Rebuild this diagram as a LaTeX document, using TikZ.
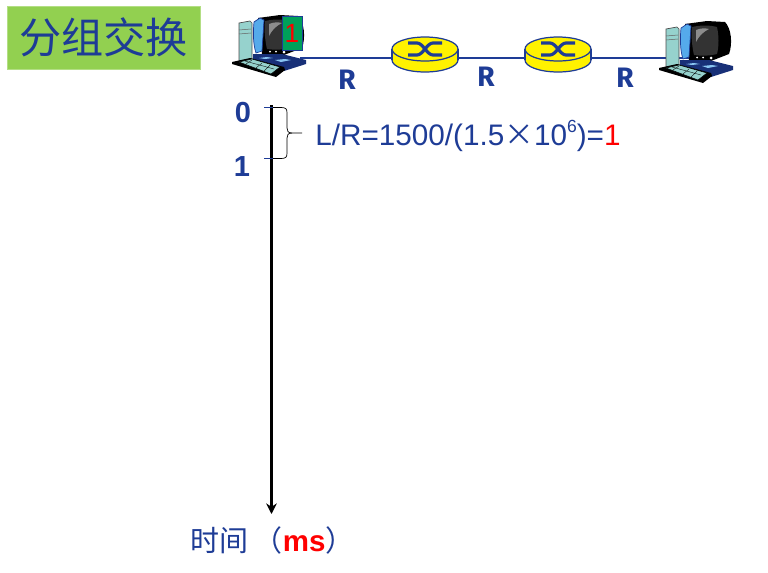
\documentclass[tikz,border=0pt]{standalone}
\usepackage{fontspec}
\setmainfont{Liberation Sans}
\newfontfamily\cjk{Noto Sans CJK SC}
\newfontfamily\rfont{Fira Sans}
\usepackage{tikz}
\usetikzlibrary{calc,arrows.meta,positioning}

\definecolor{netblue}{RGB}{30,60,150}
\definecolor{titlegreen}{RGB}{146,208,80}
\definecolor{tealkey}{RGB}{150,210,205}
\definecolor{slideblue}{RGB}{85,170,235}
\definecolor{pktgreen}{RGB}{0,160,90}

\tikzset{
  link/.style={draw=netblue, line width=1.1pt},
  ratelabel/.style={text=netblue, font=\rfont\fontsize{16}{16}\selectfont\bfseries},
  ticklabel/.style={text=netblue, font=\fontsize{16.5}{17}\selectfont\bfseries},
  tickline/.style={draw=netblue, line width=0.5pt},
  pics/router/.style={code={
    \filldraw[fill=yellow, draw=netblue, line width=0.7pt] (0,11) ellipse[x radius=33, y radius=12];
    \fill[yellow] (-33,0) rectangle (33,11);
    \draw[netblue, line width=0.7pt] (-33,0) -- (-33,11) (33,0) -- (33,11);
    \filldraw[fill=yellow, draw=netblue, line width=0.7pt] (0,0) ellipse[x radius=33, y radius=12];
    \draw[netblue, line width=1.8pt] (-17,-6) -- (-8,-6) .. controls (-2,-6) and (2,6) .. (8,6) -- (17,6);
    \draw[netblue, line width=1.8pt] (-17,6) -- (-8,6) .. controls (-2,6) and (2,-6) .. (8,-6) -- (17,-6);
  }},
  pics/host/.style={code={
    % tower
    \filldraw[fill=tealkey, draw=black!70, line width=0.4pt] (7,-39) -- (18,-41) -- (20,-39) -- (20,-3) -- (7,-1) -- cycle;
    \draw[black!60, line width=0.3pt] (7,-32) -- (19,-33) (7,-28) -- (19,-29);
    % monitor
    \fill[black] (26,-44) -- (48,-47) -- (66,-46) .. controls (72,-40) and (74,-25) .. (70,-14) -- (52,-7) -- (30,-8) -- cycle;
    \filldraw[fill=slideblue, draw=netblue, line width=0.4pt] (22,-40) -- (28,-44) -- (32,-42) -- (30,-11) -- (24,-9) .. controls (21,-18) and (21,-30) .. (22,-40) -- cycle;
    \fill[black!80] (33,-41) .. controls (42,-43) and (50,-43) .. (58,-41) .. controls (60,-32) and (60,-22) .. (58,-14) .. controls (50,-12) and (42,-12) .. (35,-13) .. controls (33,-22) and (32,-32) .. (33,-41) -- cycle;
    \fill[black!45] (37,-38) .. controls (42,-40) and (46,-40) .. (50,-39) .. controls (44,-36) and (40,-32) .. (37,-26) -- cycle;
    % base
    \fill[netblue!80!black] (21,-8) -- (50,-8) -- (74,-2) -- (74,2) -- (52,9) -- (21,3) -- cycle;
    \fill[white] (38,-10.5) circle[radius=1] (44,-10.5) circle[radius=1] (52,-10) circle[radius=1.5];
    \fill[slideblue!70] (27,-4) -- (35,-5) -- (41,-4) -- (33,-3) -- cycle (43,-2) -- (53,-3) -- (59,-2) -- (49,0) -- cycle;
    % keyboard
    \fill[black] (0,0) -- (18,-4) -- (52,5) -- (53,8) -- (44,15) -- (0,2) -- cycle;
    \filldraw[fill=tealkey, draw=black, line width=0.3pt] (7,0) -- (20,-3) -- (48,5) -- (39,12) -- cycle;
    \draw[black, line width=0.2pt] (13,-1) -- (42,7) (20,-2) -- (14,2) (30,1) -- (24,6) (38,3) -- (32,9);
  }}
}

\begin{document}
\begin{tikzpicture}[x=0.02cm, y=-0.02cm]

  \useasboundingbox (0,0) rectangle (768,572);

  % title
  \node[fill=titlegreen, draw=titlegreen!70, line width=0.3pt, minimum width=3.86cm, minimum height=1.26cm, inner sep=0pt, text=netblue, font=\cjk\fontsize{24}{24}\selectfont] (title) at (103.5,37.5) {分组交换};

  % network
  \coordinate (hostA) at (300,58);
  \coordinate (routerA) at (425,58);
  \coordinate (routerB) at (558,58);
  \coordinate (hostB) at (700,58);

  \draw[link] (hostA) -- (routerA);
  \draw[link] (routerA) -- (routerB);
  \draw[link] (routerB) -- (hostB);

  \pic at (425,49) {router};
  \pic at (558,49) {router};
  \pic at (232,62) {host};
  \pic at (659,68) {host};

  \node[fill=pktgreen, draw=netblue, line width=0.4pt, minimum width=0.4cm, minimum height=0.68cm, inner sep=0pt, text=red, font=\fontsize{15}{15}\selectfont] (packet) at (292,33) {1};

  \node[ratelabel] (rateA) at (347,80) {R};
  \node[ratelabel] (rateB) at (486,77) {R};
  \node[ratelabel] (rateC) at (625,78) {R};

  % time axis
  \coordinate (axisTop) at (271.5,105);
  \coordinate (axisEnd) at (271.5,514);
  \draw[line width=1.2pt, -{Stealth[length=6pt, width=6pt]}] (axisTop) -- (axisEnd);

  \node[ticklabel] (tickZero) at (243,113) {0};
  \node[ticklabel] (tickOne) at (242,167) {1};

  \coordinate (markZero) at (264,107.5);
  \coordinate (markOne) at (264,158);
  \coordinate (braceTip) at (302,133);
  \draw[tickline] (markZero) -- ++(10,0);
  \draw[tickline] (markOne) -- ++(10,0);

  \draw[line width=0.4pt] (273,107.5) -- (281,107.5) .. controls (286,107.5) and (287,109) .. (287,113) -- (287,128) .. controls (287,131) and (288,133) .. (292,133) -- (braceTip);
  \draw[line width=0.4pt] (273,158.5) -- (281,158.5) .. controls (286,158.5) and (287,157) .. (287,153) -- (287,138) .. controls (287,135) and (288,133) .. (292,133);

  \node[right=0pt of braceTip, xshift=0.26cm, yshift=-0.06cm, inner sep=0pt, text=netblue, font=\fontsize{16.9}{17}\selectfont] (delay) {L/R=1500/(1.5{\cjk\fontsize{16.9}{17}\selectfont ×}10\raisebox{0.45em}{\fontsize{10}{10}\selectfont 6})=\textcolor{red}{1}};

  \node[below=0.24cm of axisEnd, xshift=0.02cm, inner sep=0pt, text=netblue, font=\cjk\fontsize{16.5}{17}\selectfont] (timeLabel) {时间\hspace{3pt}（\textcolor{red}{\rmfamily\bfseries\fontsize{16.8}{17}\selectfont ms}）};

\end{tikzpicture}
\end{document}
